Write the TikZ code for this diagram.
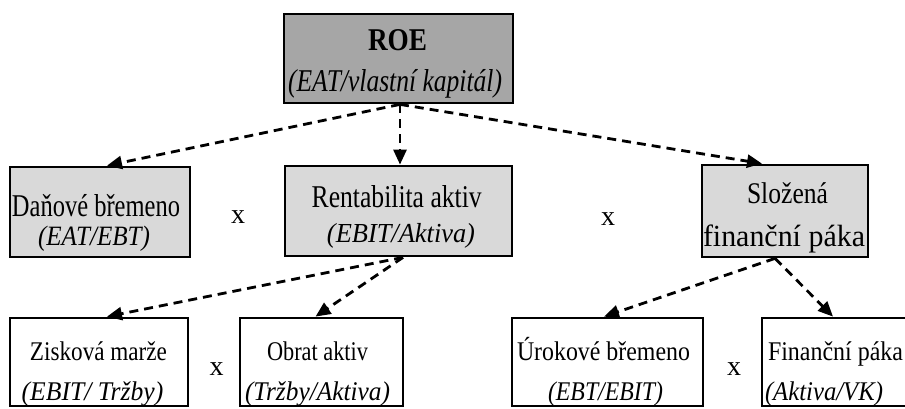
\documentclass[tikz,border=0pt]{standalone}
\usepackage{fontspec}
\usepackage{graphicx}
\setmainfont{Liberation Serif}
\usetikzlibrary{arrows.meta}
\definecolor{roegray}{HTML}{A6A6A6}
\definecolor{midgray}{HTML}{D9D9D9}
% one line of text at a given size, squeezed to a given width
\newcommand\fitline[3]{\resizebox{#2pt}{\height}{\fontsize{#1}{#1}\selectfont #3}}
\begin{document}
\begin{tikzpicture}[x=1pt,y=-1pt,
  box/.style={draw=black, line width=2.8pt, rectangle, inner sep=0pt},
  topbox/.style={box, fill=roegray},
  midbox/.style={box, fill=midgray},
  lowbox/.style={box, fill=white},
  txt/.style={inner sep=0pt, anchor=base},
  times/.style={inner sep=0pt, anchor=base, font=\fontsize{28}{28}\selectfont},
  link/.style={line width=2.8pt, dash pattern=on 9pt off 6pt,
               -{Triangle[length=15pt,width=13pt]}}]
\useasboundingbox (0,0) rectangle (905,408);
\clip (0,0) rectangle (905,408);

% boxes
\node[topbox, minimum width=229pt, minimum height=89pt] (roe) at (398.5,58.5) {};
\node[midbox, minimum width=180pt, minimum height=90pt] (dan) at (100,212) {};
\node[midbox, minimum width=227pt, minimum height=90pt] (ren) at (398.5,211) {};
\node[midbox, minimum width=166pt, minimum height=92pt] (slo) at (785,211) {};
\node[lowbox, minimum width=178pt, minimum height=88pt] (zis) at (99,362) {};
\node[lowbox, minimum width=163pt, minimum height=88pt] (obr) at (321.5,362) {};
\node[lowbox, minimum width=191pt, minimum height=88pt] (uro) at (607.5,362) {};
\node[lowbox, minimum width=153pt, minimum height=88pt] (fin) at (838.5,362) {};

% box texts
\node[txt] (roe-1) at (397.5,50)  {\fitline{31.7}{59}{\bfseries ROE}};
\node[txt] (roe-2) at (395,91)    {\fitline{31.7}{214}{\itshape (EAT/vlastní kapitál)}};
\node[txt] (dan-1) at (96,216)    {\fitline{31.7}{168}{Daňové břemeno}};
\node[txt] (dan-2) at (94,245)    {\fitline{28}{112}{\itshape (EAT/EBT)}};
\node[txt] (ren-1) at (396.7,207.7) {\fitline{31.7}{170}{Rentabilita aktiv}};
\node[txt] (ren-2) at (401,242.7) {\fitline{27.5}{148}{\itshape (EBIT/Aktiva)}};
\node[txt] (slo-1) at (787.5,203) {\fitline{30}{81}{Složená}};
\node[txt] (slo-2) at (784,246.7) {\fitline{30.7}{162}{finanční páka}};
\node[txt] (zis-1) at (98.5,360)  {\fitline{27}{137}{Zisková marže}};
\node[txt] (zis-2) at (92.5,400)  {\fitline{27}{141.6}{\itshape (EBIT/ Tržby)}};
\node[txt] (obr-1) at (317.5,360) {\fitline{27}{101}{Obrat aktiv}};
\node[txt] (obr-2) at (317.5,400) {\fitline{27}{145}{\itshape (Tržby/Aktiva)}};
\node[txt] (uro-1) at (603.5,360) {\fitline{27}{173}{Úrokové břemeno}};
\node[txt] (uro-2) at (605.5,400) {\fitline{27}{115}{\itshape (EBT/EBIT)}};
\node[txt] (fin-1) at (835.5,360) {\fitline{27}{135}{Finanční páka}};
\node[txt] (fin-2) at (824,400)   {\fitline{27}{118}{\itshape (Aktiva/VK)}};

% multiplication signs
\node[times] (m1) at (238,223) {x};
\node[times] (m2) at (608,225) {x};
\node[times] (m3) at (216.7,375) {x};
\node[times] (m4) at (734,375) {x};

% connectors
\draw[link] ([xshift=1.5pt]roe.south) -- ([xshift=7pt]dan.north);
\draw[link] ([xshift=1.5pt]roe.south) -- ([xshift=1.5pt]ren.north);
\draw[link] ([xshift=1.5pt]roe.south) -- ([xshift=-23pt]slo.north);
\draw[link] ([xshift=4.5pt]ren.south) -- ([xshift=8pt]zis.north);
\draw[link] ([xshift=4.5pt]ren.south) -- ([xshift=-6pt]obr.north);
\draw[link] ([xshift=-10pt]slo.south) -- ([xshift=-3.5pt]uro.north);
\draw[link] ([xshift=-10pt]slo.south) -- ([xshift=-5.5pt]fin.north);
\end{tikzpicture}
\end{document}
